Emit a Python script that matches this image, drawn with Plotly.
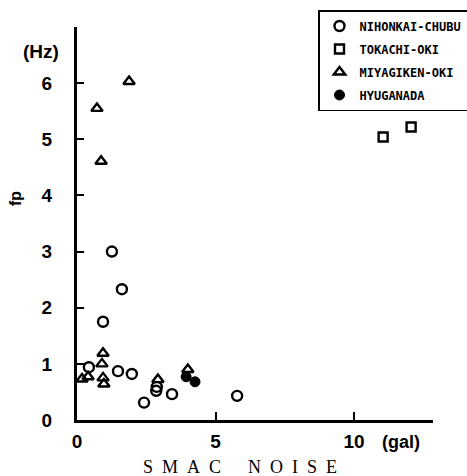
import plotly.graph_objects as go

# NIHONKAI-CHUBU (open circles)
nih_x = [1.26, 1.62, 0.94, 0.43, 1.48, 1.98, 2.42, 2.88, 2.86, 3.43, 5.78]
nih_y = [3.0, 2.33, 1.75, 0.94, 0.87, 0.82, 0.31, 0.59, 0.52, 0.46, 0.43]
# TOKACHI-OKI (open squares)
tok_x = [11.05, 12.06]
tok_y = [5.04, 5.22]
# MIYAGIKEN-OKI (open triangles)
miy_x = [1.88, 0.72, 0.87, 0.94, 0.90, 0.94, 0.97, 0.18, 0.40, 2.92, 4.0]
miy_y = [6.03, 5.55, 4.61, 1.19, 1.0, 0.75, 0.64, 0.73, 0.77, 0.72, 0.90]
# HYUGANADA (filled circles)
hyu_x = [3.94, 4.26]
hyu_y = [0.77, 0.68]

x_ticks = [0, 5, 10]
y_ticks = [0, 1, 2, 3, 4, 5, 6]

L, R, T, B = 77, 34, 27, 56
W, H = 467, 476
PW, PH = W - L - R, H - T - B


def px(xp):
    return (xp - L) / PW


def py(yp):
    return (H - B - yp) / PH


fig = go.Figure()
mk_line = dict(color="black", width=2.4)
fig.add_trace(go.Scatter(x=nih_x, y=nih_y, mode="markers", name="NIHONKAI-CHUBU", legendgroup="a",
                         marker=dict(symbol="circle-open", size=10, line=mk_line, color="black")))
fig.add_trace(go.Scatter(x=tok_x, y=tok_y, mode="markers", name="TOKACHI-OKI", legendgroup="b",
                         marker=dict(symbol="square-open", size=9, line=mk_line, color="black")))
fig.add_trace(go.Scatter(x=miy_x, y=miy_y, mode="markers", name="MIYAGIKEN-OKI", legendgroup="c",
                         marker=dict(symbol="triangle-up-open", size=10, line=mk_line, color="black")))
fig.add_trace(go.Scatter(x=hyu_x, y=hyu_y, mode="markers", name="HYUGANADA", legendgroup="d",
                         marker=dict(symbol="circle", size=10, color="black", line=dict(color="black", width=1))))

sp = "&nbsp;&nbsp;"
title_text = sp.join("SMAC") + sp * 3 + sp.join("NOISE")

tickfont = dict(family="Liberation Sans", size=19, color="black", weight="bold")
fig.update_layout(
    width=W, height=H,
    margin=dict(l=L, r=R, t=T, b=B, autoexpand=False),
    paper_bgcolor="white", plot_bgcolor="white",
    showlegend=True,
    legend=dict(x=px(318), y=py(10), xanchor="left", yanchor="top",
                bordercolor="black", borderwidth=1.5, bgcolor="white",
                font=dict(family="DejaVu Sans Mono", size=12, color="black", weight="bold"),
                tracegroupgap=4, itemwidth=30),
    xaxis=dict(range=[0, 12.85], tickvals=x_ticks, ticks="inside", ticklen=8, tickwidth=2,
               tickcolor="black", showline=True, linecolor="black", linewidth=2.5,
               showgrid=False, zeroline=False, tickfont=tickfont, ticklabelstandoff=2),
    yaxis=dict(range=[0, 7.0], tickvals=y_ticks, ticks="inside", ticklen=7, tickwidth=2,
               tickcolor="black", showline=True, linecolor="black", linewidth=3,
               showgrid=False, zeroline=False, tickfont=tickfont, ticklabelstandoff=18),
    annotations=[
        dict(text="<b>(Hz)</b>", xref="paper", yref="paper", x=px(41), y=py(52),
             xanchor="center", yanchor="middle", showarrow=False,
             font=dict(family="Liberation Sans", size=19, color="black")),
        dict(text="<b>fp</b>", xref="paper", yref="paper", x=px(15), y=py(199),
             xanchor="center", yanchor="middle", showarrow=False, textangle=-90,
             font=dict(family="Liberation Sans", size=16, color="black")),
        dict(text="<b>(gal)</b>", xref="paper", yref="paper", x=px(401), y=py(442),
             xanchor="center", yanchor="middle", showarrow=False,
             font=dict(family="Liberation Sans", size=18, color="black")),
        dict(text=title_text, xref="paper", yref="paper",
             x=px(240), y=py(467),
             xanchor="center", yanchor="middle", showarrow=False,
             font=dict(family="Liberation Serif", size=18, color="black")),
    ],
)
fig.write_html("out.html", config={"displayModeBar": False},
               post_script="document.body.style.margin='0px';document.body.style.padding='0px';")
